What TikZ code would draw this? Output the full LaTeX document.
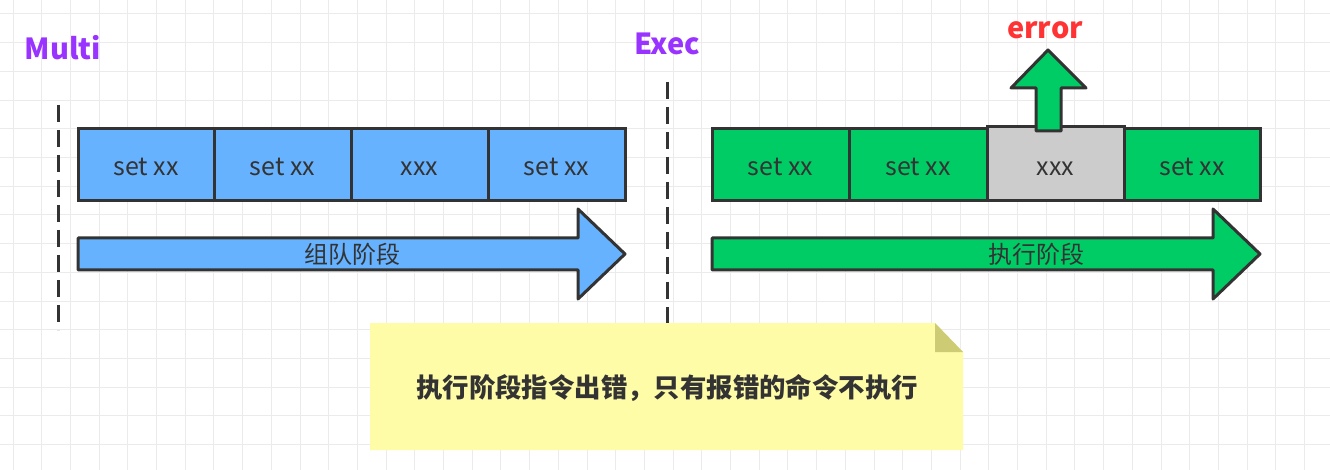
\documentclass[tikz,border=0pt]{standalone}
\usepackage{fontspec}
\setmainfont{Noto Sans CJK SC}
\definecolor{cblue}{HTML}{66B2FF}
\definecolor{cgreen}{HTML}{00CC66}
\definecolor{cgray}{HTML}{CCCCCC}
\definecolor{cyellow}{HTML}{FFFCA8}
\definecolor{cfold}{HTML}{CDCB74}
\definecolor{cpurple}{HTML}{9933FF}
\definecolor{cred}{HTML}{FF3333}
\definecolor{cdark}{HTML}{333333}
\definecolor{cgrid}{HTML}{EBEBEB}
\begin{document}
\begin{tikzpicture}[x=1pt,y=-1pt,
  gridline/.style={draw=cgrid,line width=1pt},
  cell/.style={draw=cdark,line width=3pt,minimum height=72pt,inner sep=0pt,text=cdark,
    text height=23pt,text depth=1pt,font=\fontsize{25}{28}\selectfont},
  bigarrow/.style={draw=cdark,line width=3pt,line join=round},
  arrowlabel/.style={text=cdark,font=\fontsize{24}{28}\selectfont},
  title/.style={font=\bfseries\fontsize{29}{32}\selectfont},
  divider/.style={draw=cdark,line width=3pt,dash pattern=on 17pt off 8pt}]
\useasboundingbox (0,0) rectangle (1330,470);
\fill[white] (0,0) rectangle (1330,470);
% grid
\foreach \i in {0,...,46} \draw[gridline] (13+\i*28.7,0) -- (13+\i*28.7,470);
\foreach \j in {0,...,16} \draw[gridline] (0,14+\j*28.7) -- (1330,14+\j*28.7);
% titles
\node[title,text=cpurple] (multi) at (63,48) {Multi};
\node[title,text=cpurple] (exec) at (667,44) {Exec};
\node[title,text=cred] (err) at (1045,30) {error};
% dashed dividers
\coordinate (d1a) at (58,105); \coordinate (d1b) at (58,330);
\coordinate (d2a) at (667,82); \coordinate (d2b) at (667,330);
\draw[divider] (d1a) -- (d1b);
\draw[divider] (d2a) -- (d2b);
% blue cells
\node[cell,fill=cblue,minimum width=136pt] (b1) at (146,165) {set xx};
\node[cell,fill=cblue,minimum width=137pt] (b2) at (282.5,165) {set xx};
\node[cell,fill=cblue,minimum width=137pt] (b3) at (419.5,165) {xxx};
\node[cell,fill=cblue,minimum width=137pt] (b4) at (556.5,165) {set xx};
% green cells
\node[cell,fill=cgreen,minimum width=137pt] (g1) at (780.5,165) {set xx};
\node[cell,fill=cgreen,minimum width=138pt] (g2) at (918,165) {set xx};
\node[cell,fill=cgray,minimum width=137pt,minimum height=74pt,text height=25pt] (g3) at (1055.5,164) {xxx};
\node[cell,fill=cgreen,minimum width=136pt] (g4) at (1192,165) {set xx};
% big arrows
\draw[bigarrow,fill=cblue] (78,238) -- (578,238) -- (578,209) -- (625,254) -- (578,299) -- (578,270) -- (78,270) -- cycle;
\node[arrowlabel] (l1) at (352,254) {组队阶段};
\draw[bigarrow,fill=cgreen] (712,238) -- (1213,238) -- (1213,209) -- (1260,254) -- (1213,299) -- (1213,270) -- (712,270) -- cycle;
\node[arrowlabel] (l2) at (1036,254) {执行阶段};
% up arrow
\draw[bigarrow,fill=cgreen] (1036,131) -- (1036,88) -- (1011,88) -- (1048,50) -- (1086,88) -- (1061,88) -- (1061,131) -- cycle;
% note
\fill[cyellow] (370,323) -- (935,323) -- (963,352) -- (963,450) -- (370,450) -- cycle;
\fill[cfold] (935,323) -- (963,352) -- (935,352) -- cycle;
\node[text=cdark,font=\bfseries\fontsize{26.4}{30}\selectfont] (note) at (667,388) {执行阶段指令出错，只有报错的命令不执行};
\end{tikzpicture}
\end{document}
